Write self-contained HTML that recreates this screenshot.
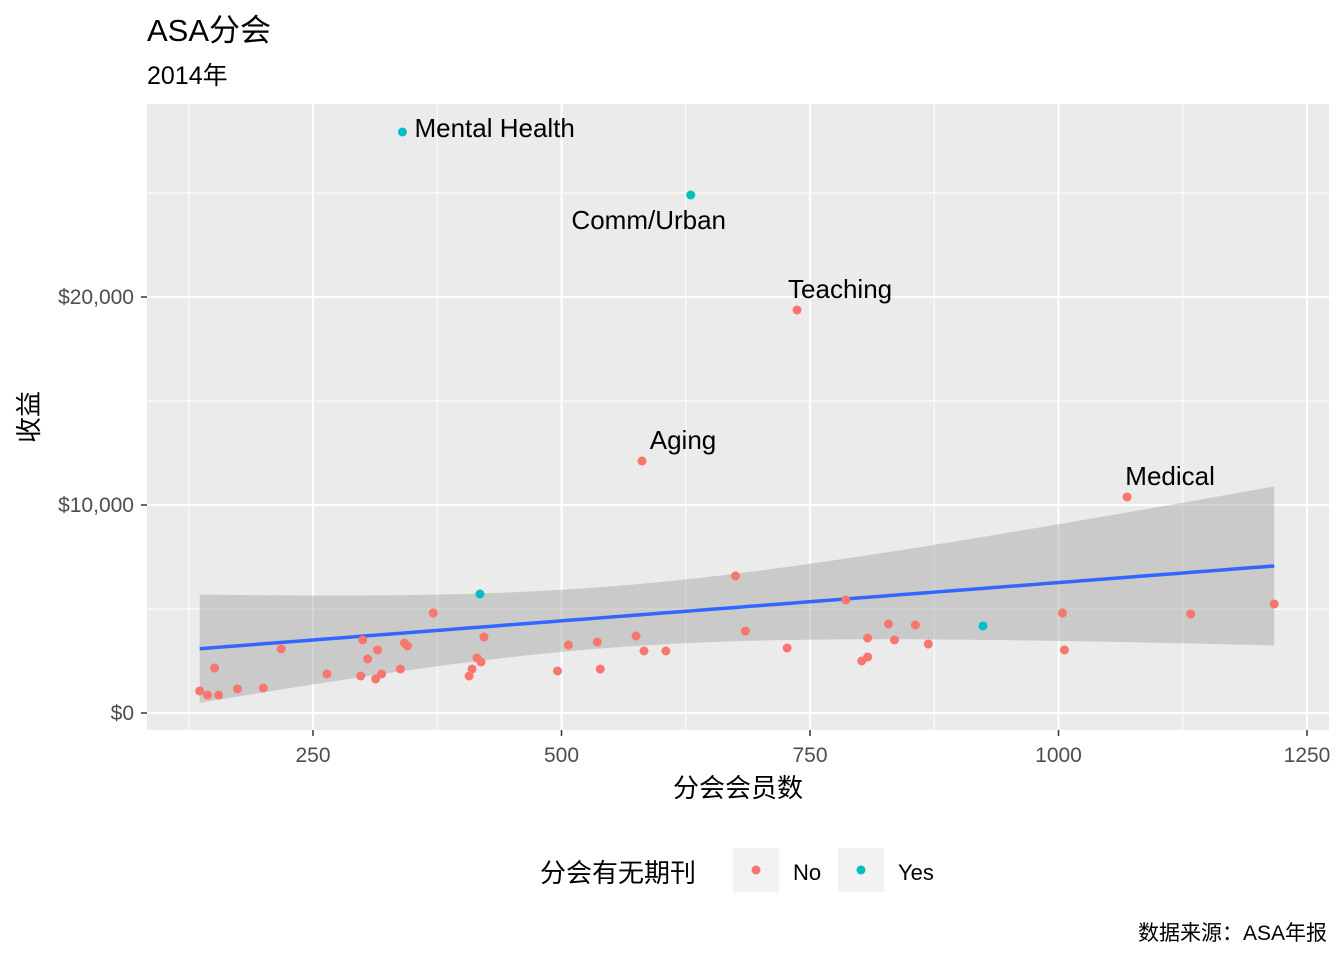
<!DOCTYPE html>
<html><head><meta charset="utf-8">
<style>
body{margin:0;background:#fff;}
svg text{font-family:"Liberation Sans","Noto Sans CJK SC",sans-serif;}
</style></head>
<body>
<svg id="chart" width="1344" height="960" xmlns="http://www.w3.org/2000/svg">
<text x="147" y="41" font-size="31" fill="#000">ASA分会</text>
<text x="147" y="84" font-size="25" fill="#000">2014年</text>
<rect x="147" y="104" width="1182" height="626" fill="#ebebeb"/>
<g id="grid"></g>
<g id="band"></g>
<g id="pts"></g>
<g id="axes"></g>
<text x="738" y="797" font-size="26" text-anchor="middle" fill="#000">分会会员数</text>
<text transform="translate(38,417) rotate(-90)" font-size="26" text-anchor="middle" fill="#000">收益</text>
<g>
<text x="540" y="882" font-size="26" fill="#000">分会有无期刊</text>
<rect x="733" y="848" width="46" height="44" fill="#f2f2f2"/>
<circle cx="756" cy="870" r="4.5" fill="#f8766d"/>
<text x="793" y="880" font-size="22" fill="#000">No</text>
<rect x="838" y="848" width="46" height="44" fill="#f2f2f2"/>
<circle cx="861" cy="870" r="4.5" fill="#00bfc4"/>
<text x="898" y="880" font-size="22" fill="#000">Yes</text>
</g>
<text x="1327" y="940" font-size="21" text-anchor="end" fill="#000">数据来源：ASA年报</text>
</svg>
<script>
const members=[136,144,151,155,174,200,218,264,298,300,305,313,315,319,338,342,345,371,407,410,415,419,422,496,507,536,539,575,581,583,605,675,685,727,737,786,802,808,808,829,835,856,869,1004,1006,1069,1133,1217,340,630,418,924];
const revenue=[1058,865,2163,865,1154,1202,3077,1875,1779,3510,2596,1635,3029,1875,2115,3365,3221,4808,1779,2115,2644,2452,3654,2019,3269,3413,2115,3702,12115,2981,2981,6587,3942,3125,19375,5433,2500,2692,3606,4279,3510,4231,3317,4808,3029,10385,4760,5240,27933,24904,5721,4183];
const journal=["No","No","No","No","No","No","No","No","No","No","No","No","No","No","No","No","No","No","No","No","No","No","No","No","No","No","No","No","No","No","No","No","No","No","No","No","No","No","No","No","No","No","No","No","No","No","No","No","Yes","Yes","Yes","Yes"];
const labelNames=["Mental Health","Comm/Urban","Teaching","Aging","Medical"];
const labelIdx=[48,49,34,28,45];
const xTicks=[250,500,750,1000,1250];
const yTicks=[0,10000,20000];
const yTickLabels=["$0","$10,000","$20,000"];

const X=v=>64.5+v*0.994, Y=v=>713-v*0.0208;
const NS="http://www.w3.org/2000/svg";
function mk(tag,attrs,parent,text){const e=document.createElementNS(NS,tag);for(const k in attrs)e.setAttribute(k,attrs[k]);if(text!==undefined)e.textContent=text;parent.appendChild(e);return e;}
const grid=document.getElementById('grid');
[125,375,625,875,1125].forEach(v=>{const l=mk('line',{x1:X(v),x2:X(v),y1:104,y2:730,stroke:'#fff','stroke-width':1},grid);

});
[5000,15000,25000].forEach(v=>{const l=mk('line',{x1:147,x2:1329,y1:Y(v),y2:Y(v),stroke:'#fff','stroke-width':1},grid);

});
xTicks.forEach(v=>{const l=mk('line',{x1:X(v),x2:X(v),y1:104,y2:730,stroke:'#fff','stroke-width':2},grid);

});
yTicks.forEach(v=>{const l=mk('line',{x1:147,x2:1329,y1:Y(v),y2:Y(v),stroke:'#fff','stroke-width':2},grid);

});
const axes=document.getElementById('axes');
xTicks.forEach(v=>{const t=mk('line',{x1:X(v),x2:X(v),y1:730,y2:736,stroke:'#333','stroke-width':1.5},axes);


const s=mk('text',{x:X(v),y:762,'font-size':21,'text-anchor':'middle',fill:'#4d4d4d'},axes,String(v));

});
yTicks.forEach((v,i)=>{const t=mk('line',{x1:141,x2:147,y1:Y(v),y2:Y(v),stroke:'#333','stroke-width':1.5},axes);


const s=mk('text',{x:134,y:Y(v)+7,'font-size':21,'text-anchor':'end',fill:'#4d4d4d'},axes,yTickLabels[i]);

});
// linear fit with 95% CI
const n=members.length;let mx=0,my=0;for(let i=0;i<n;i++){mx+=members[i];my+=revenue[i];}mx/=n;my/=n;
let sxx=0,sxy=0;for(let i=0;i<n;i++){sxx+=(members[i]-mx)**2;sxy+=(members[i]-mx)*(revenue[i]-my);}
const b=sxy/sxx,a=my-b*mx;let sse=0;for(let i=0;i<n;i++){sse+=(revenue[i]-a-b*members[i])**2;}
const sig=Math.sqrt(sse/(n-2)),tq=2.009;
const xmin=Math.min(...members),xmax=Math.max(...members);
const up=[],lo=[],ln=[];
for(let k=0;k<=80;k++){const x=xmin+(xmax-xmin)*k/80,f=a+b*x,se=sig*Math.sqrt(1/n+(x-mx)**2/sxx);
up.push(X(x)+','+Y(f+tq*se));lo.unshift(X(x)+','+Y(f-tq*se));ln.push(X(x)+','+Y(f));}
const band=document.getElementById('band');
const bp=mk('polygon',{points:up.concat(lo).join(' '),fill:'#999',opacity:0.4},band);


const pts=document.getElementById('pts');
for(let i=0;i<n;i++){const c=mk('circle',{cx:X(members[i]),cy:Y(revenue[i]),r:4.5,fill:journal[i]==='Yes'?'#00bfc4':'#f8766d'},pts);

}
const fl=mk('polyline',{points:ln.join(' '),fill:'none',stroke:'#3366ff','stroke-width':3.5},band);


const offs=[[12,5,'start'],[-42,34,'middle'],[43,-12,'middle'],[41,-12,'middle'],[43,-12,'middle']];
labelIdx.forEach((idx,j)=>{const o=offs[j];const t=mk('text',{x:X(members[idx])+o[0],y:Y(revenue[idx])+o[1],'font-size':26,'text-anchor':o[2],fill:'#000'},pts,labelNames[j]);

});
</script>
</body></html>
